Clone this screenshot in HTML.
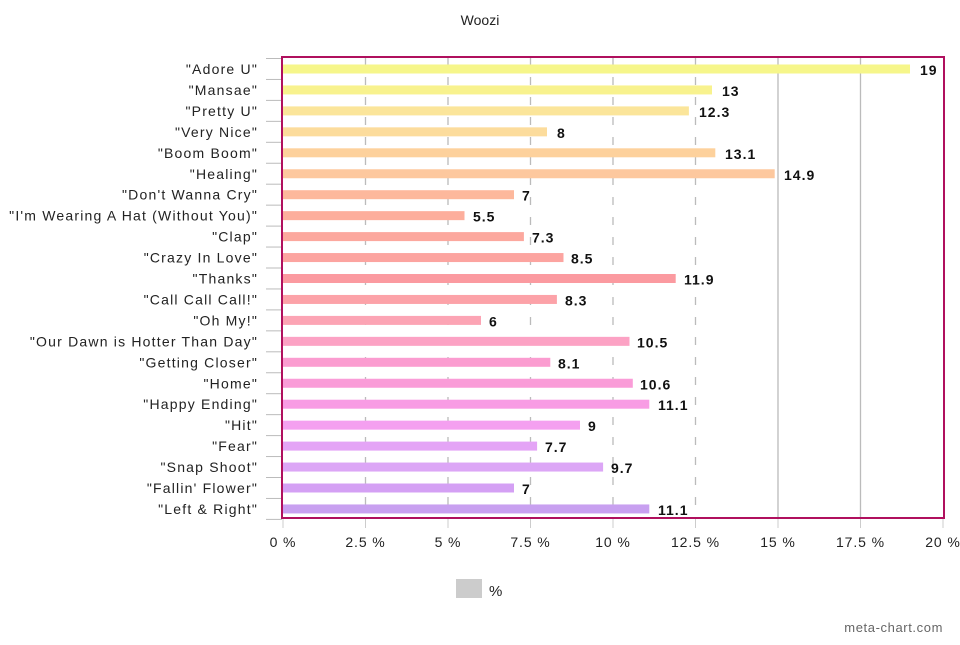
<!DOCTYPE html><html><head><style>body{margin:0;background:#fff}</style></head><body>
<svg width="960" height="640" xmlns="http://www.w3.org/2000/svg" font-family="Liberation Sans, sans-serif">
<rect width="960" height="640" fill="#fff"/>
<text x="480" y="25" font-size="14" text-anchor="middle" fill="#222">Woozi</text>
<g stroke="#bbb" stroke-width="1.3">
<line x1="365.5" y1="57" x2="365.5" y2="518" stroke-dasharray="8,12"/>
<line x1="448" y1="57" x2="448" y2="518" stroke-dasharray="8,12"/>
<line x1="530.5" y1="57" x2="530.5" y2="518" stroke-dasharray="8,12"/>
<line x1="613" y1="57" x2="613" y2="518" stroke-dasharray="8,12"/>
<line x1="695.5" y1="57" x2="695.5" y2="518" stroke-dasharray="8,12"/>
<line x1="778" y1="57" x2="778" y2="518"/>
<line x1="860.5" y1="57" x2="860.5" y2="518"/>
</g>
<g stroke="#ccc">
<line x1="283" y1="518" x2="283" y2="528"/><line x1="365.5" y1="518" x2="365.5" y2="528"/><line x1="448" y1="518" x2="448" y2="528"/><line x1="530.5" y1="518" x2="530.5" y2="528"/><line x1="613" y1="518" x2="613" y2="528"/><line x1="695.5" y1="518" x2="695.5" y2="528"/><line x1="778" y1="518" x2="778" y2="528"/><line x1="860.5" y1="518" x2="860.5" y2="528"/><line x1="943" y1="518" x2="943" y2="528"/>
</g>
<g font-size="14" text-anchor="middle" fill="#222" letter-spacing="0.9">
<text x="283" y="547">0 %</text><text x="365.5" y="547">2.5 %</text><text x="448" y="547">5 %</text><text x="530.5" y="547">7.5 %</text><text x="613" y="547">10 %</text><text x="695.5" y="547">12.5 %</text><text x="778" y="547">15 %</text><text x="860.5" y="547">17.5 %</text><text x="943" y="547">20 %</text>
</g>
<g stroke="#bbb">
<line x1="266" y1="58.5" x2="282" y2="58.5"/><line x1="266" y1="79.45" x2="282" y2="79.45"/><line x1="266" y1="100.4" x2="282" y2="100.4"/><line x1="266" y1="121.35" x2="282" y2="121.35"/><line x1="266" y1="142.3" x2="282" y2="142.3"/><line x1="266" y1="163.25" x2="282" y2="163.25"/><line x1="266" y1="184.2" x2="282" y2="184.2"/><line x1="266" y1="205.15" x2="282" y2="205.15"/><line x1="266" y1="226.1" x2="282" y2="226.1"/><line x1="266" y1="247.05" x2="282" y2="247.05"/><line x1="266" y1="268" x2="282" y2="268"/><line x1="266" y1="288.95" x2="282" y2="288.95"/><line x1="266" y1="309.9" x2="282" y2="309.9"/><line x1="266" y1="330.85" x2="282" y2="330.85"/><line x1="266" y1="351.8" x2="282" y2="351.8"/><line x1="266" y1="372.75" x2="282" y2="372.75"/><line x1="266" y1="393.7" x2="282" y2="393.7"/><line x1="266" y1="414.65" x2="282" y2="414.65"/><line x1="266" y1="435.6" x2="282" y2="435.6"/><line x1="266" y1="456.55" x2="282" y2="456.55"/><line x1="266" y1="477.5" x2="282" y2="477.5"/><line x1="266" y1="498.45" x2="282" y2="498.45"/><line x1="266" y1="519.4" x2="282" y2="519.4"/>
</g>
<g>
<rect x="283" y="64.5" width="627" height="9" fill="#f6f68a"/>
<rect x="283" y="85.45" width="429" height="9" fill="#f8f28e"/>
<rect x="283" y="106.4" width="405.9" height="9" fill="#fbe59a"/>
<rect x="283" y="127.35" width="264" height="9" fill="#fcdc9c"/>
<rect x="283" y="148.3" width="432.3" height="9" fill="#fdd19c"/>
<rect x="283" y="169.25" width="491.7" height="9" fill="#fdc89e"/>
<rect x="283" y="190.2" width="231" height="9" fill="#fdb89c"/>
<rect x="283" y="211.15" width="181.5" height="9" fill="#fdae9c"/>
<rect x="283" y="232.1" width="240.9" height="9" fill="#fca89e"/>
<rect x="283" y="253.05" width="280.5" height="9" fill="#fca4a0"/>
<rect x="283" y="274" width="392.7" height="9" fill="#fb9aa0"/>
<rect x="283" y="294.95" width="273.9" height="9" fill="#fca2a8"/>
<rect x="283" y="315.9" width="198" height="9" fill="#fca4b4"/>
<rect x="283" y="336.85" width="346.5" height="9" fill="#fca2c4"/>
<rect x="283" y="357.8" width="267.3" height="9" fill="#fb9cd0"/>
<rect x="283" y="378.75" width="349.8" height="9" fill="#fa9cd8"/>
<rect x="283" y="399.7" width="366.3" height="9" fill="#f89ce4"/>
<rect x="283" y="420.65" width="297" height="9" fill="#f4a0f0"/>
<rect x="283" y="441.6" width="254.1" height="9" fill="#e4a4f6"/>
<rect x="283" y="462.55" width="320.1" height="9" fill="#dca6f6"/>
<rect x="283" y="483.5" width="231" height="9" fill="#d4a0f4"/>
<rect x="283" y="504.45" width="366.3" height="9" fill="#c8a0f0"/>
</g>
<g font-size="14" text-anchor="end" fill="#222" letter-spacing="1.2">
<text x="258" y="74">"Adore U"</text>
<text x="258" y="94.95">"Mansae"</text>
<text x="258" y="115.9">"Pretty U"</text>
<text x="258" y="136.85">"Very Nice"</text>
<text x="258" y="157.8">"Boom Boom"</text>
<text x="258" y="178.75">"Healing"</text>
<text x="258" y="199.7">"Don't Wanna Cry"</text>
<text x="258" y="220.65">"I'm Wearing A Hat (Without You)"</text>
<text x="258" y="241.6">"Clap"</text>
<text x="258" y="262.55">"Crazy In Love"</text>
<text x="258" y="283.5">"Thanks"</text>
<text x="258" y="304.45">"Call Call Call!"</text>
<text x="258" y="325.4">"Oh My!"</text>
<text x="258" y="346.35">"Our Dawn is Hotter Than Day"</text>
<text x="258" y="367.3">"Getting Closer"</text>
<text x="258" y="388.25">"Home"</text>
<text x="258" y="409.2">"Happy Ending"</text>
<text x="258" y="430.15">"Hit"</text>
<text x="258" y="451.1">"Fear"</text>
<text x="258" y="472.05">"Snap Shoot"</text>
<text x="258" y="493">"Fallin' Flower"</text>
<text x="258" y="513.95">"Left &amp; Right"</text>
</g>
<g font-size="14" font-weight="bold" fill="#111" letter-spacing="1">
<text x="920" y="75">19</text>
<text x="722" y="95.95">13</text>
<text x="699" y="116.9">12.3</text>
<text x="557" y="137.85">8</text>
<text x="725" y="158.8">13.1</text>
<text x="784" y="179.75">14.9</text>
<text x="522" y="200.7">7</text>
<text x="473" y="221.65">5.5</text>
<text x="532" y="242.6">7.3</text>
<text x="571" y="263.55">8.5</text>
<text x="684" y="284.5">11.9</text>
<text x="565" y="305.45">8.3</text>
<text x="489" y="326.4">6</text>
<text x="637" y="347.35">10.5</text>
<text x="558" y="368.3">8.1</text>
<text x="640" y="389.25">10.6</text>
<text x="658" y="410.2">11.1</text>
<text x="588" y="431.15">9</text>
<text x="545" y="452.1">7.7</text>
<text x="611" y="473.05">9.7</text>
<text x="522" y="494">7</text>
<text x="658" y="514.95">11.1</text>
</g>
<rect x="282" y="57" width="662" height="461" fill="none" stroke="#b0105e" stroke-width="2"/>
<rect x="456" y="579" width="26" height="19" fill="#ccc"/>
<text x="489" y="596" font-size="15" fill="#222">%</text>
<text x="943" y="632" font-size="13" text-anchor="end" fill="#666" letter-spacing="0.6">meta-chart.com</text>
</svg></body></html>
